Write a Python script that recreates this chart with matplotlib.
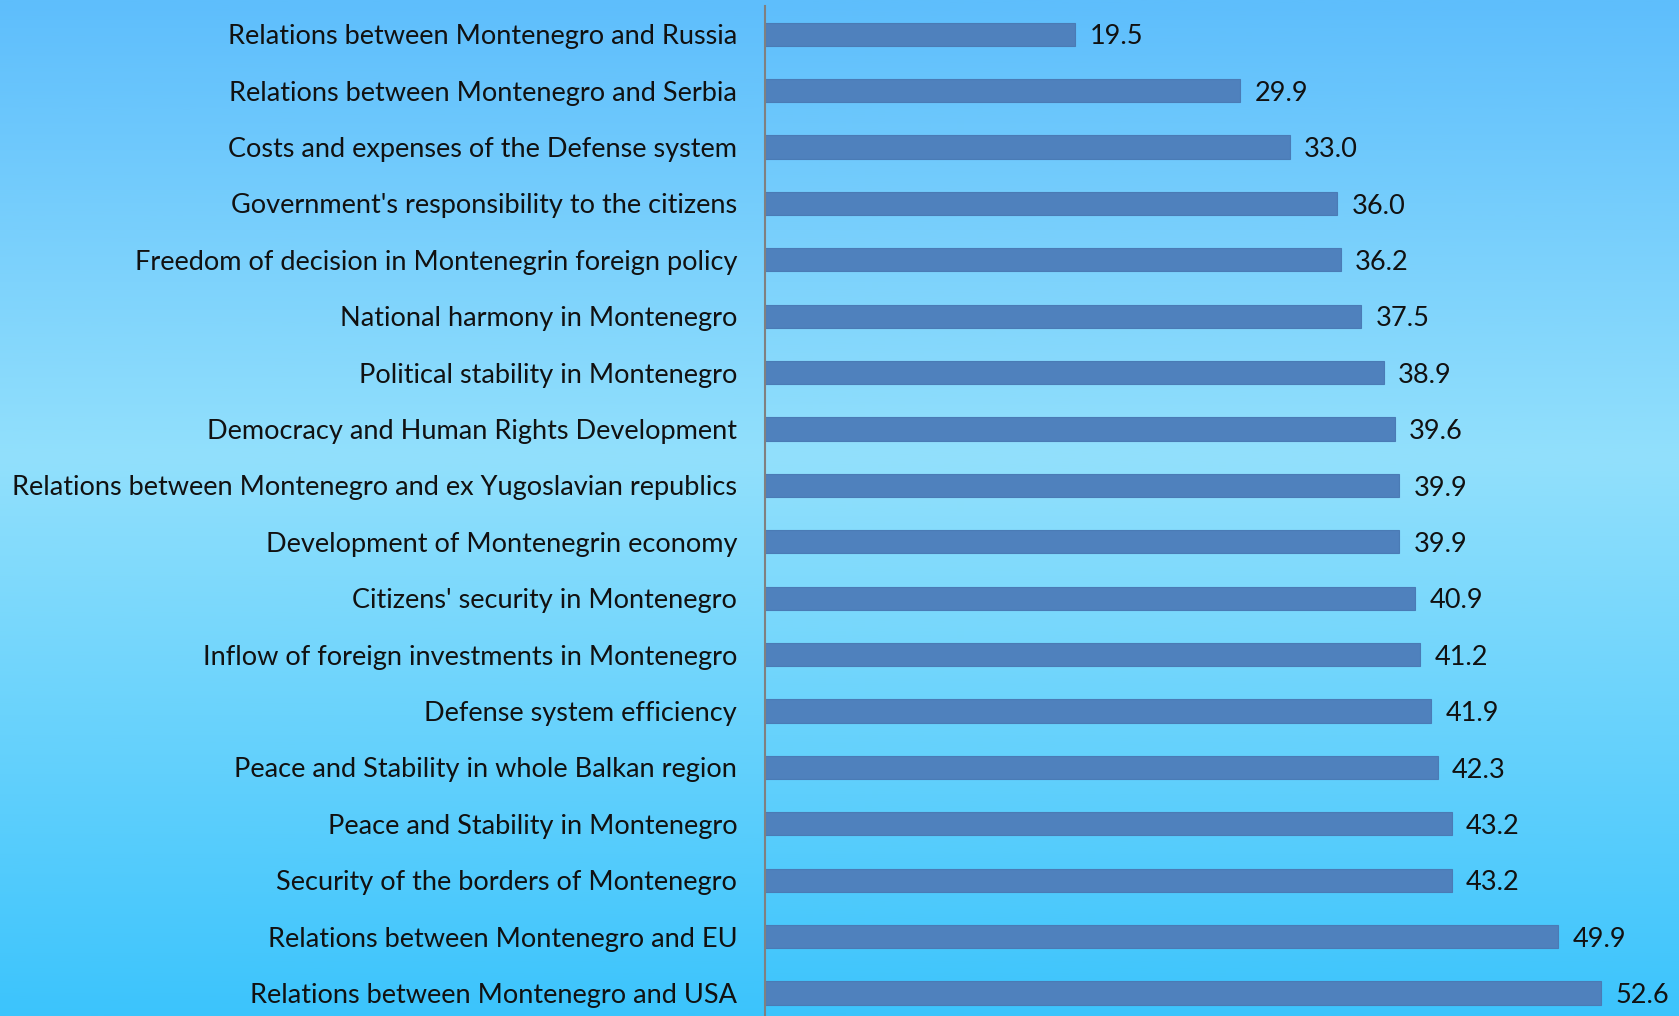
import numpy as np
import matplotlib
matplotlib.use("Agg")
import matplotlib.pyplot as plt
from matplotlib.colors import LinearSegmentedColormap
from matplotlib.transforms import offset_copy

categories = [
    "Relations between Montenegro and Russia",
    "Relations between Montenegro and Serbia",
    "Costs and expenses of the Defense system",
    "Government's responsibility to the citizens",
    "Freedom of decision in Montenegrin foreign policy",
    "National harmony in Montenegro",
    "Political stability in Montenegro",
    "Democracy and Human Rights Development",
    "Relations between Montenegro and ex Yugoslavian republics",
    "Development of Montenegrin economy",
    "Citizens' security in Montenegro",
    "Inflow of foreign investments in Montenegro",
    "Defense system efficiency",
    "Peace and Stability in whole Balkan region",
    "Peace and Stability in Montenegro",
    "Security of the borders of Montenegro",
    "Relations between Montenegro and EU",
    "Relations between Montenegro and USA",
]
values = [19.5, 29.9, 33.0, 36.0, 36.2, 37.5, 38.9, 39.6, 39.9, 39.9,
          40.9, 41.2, 41.9, 42.3, 43.2, 43.2, 49.9, 52.6]

W, H = 1679, 1016
fig = plt.figure(figsize=(W / 100, H / 100), dpi=100)
plt.rcParams['font.family'] = ['Lato', 'DejaVu Sans']

# background gradient
bg = fig.add_axes([0, 0, 1, 1], zorder=0)
cmap = LinearSegmentedColormap.from_list(
    "bg", [(0.0, "#5ebefc"), (0.45, "#92e0fc"), (1.0, "#3cc4fc")])
grad = np.linspace(0, 1, 512).reshape(-1, 1)
bg.imshow(grad, cmap=cmap, aspect="auto", extent=[0, 1, 0, 1], origin="upper")
bg.set_axis_off()

left = 765 / W
top_px = 6
spacing = 56.4
n = len(categories)
height_px = n * spacing
bottom_px = top_px + height_px
ax = fig.add_axes([left, (H - bottom_px) / H, 1 - left, height_px / H], zorder=1)
ax.patch.set_alpha(0)

y = np.arange(n)
ax.barh(y, values, height=0.41, color="#4f81bd", edgecolor="#4a7bb5", linewidth=0.8)
ax.set_ylim(n - 0.5, -0.5)
ax.set_xlim(0, (W - 765) / 15.9)

trans = offset_copy(ax.transData, fig=fig, x=0, y=-2, units="points")
for yi, v in zip(y, values):
    ax.text(v + 0.9, yi, f"{v:.1f}", va="center", ha="left", fontsize=19.5,
            color="#111111", transform=trans)

ax.set_yticks(y)
ax.set_yticklabels(categories, fontsize=19.5, color="#111111")
ax.tick_params(axis="y", length=0, pad=20)
ax.set_xticks([])
for s in ["top", "right", "bottom"]:
    ax.spines[s].set_visible(False)
ax.spines["left"].set_color("#808080")
ax.spines["left"].set_linewidth(1.5)

fig.savefig("out.png", dpi=100)
